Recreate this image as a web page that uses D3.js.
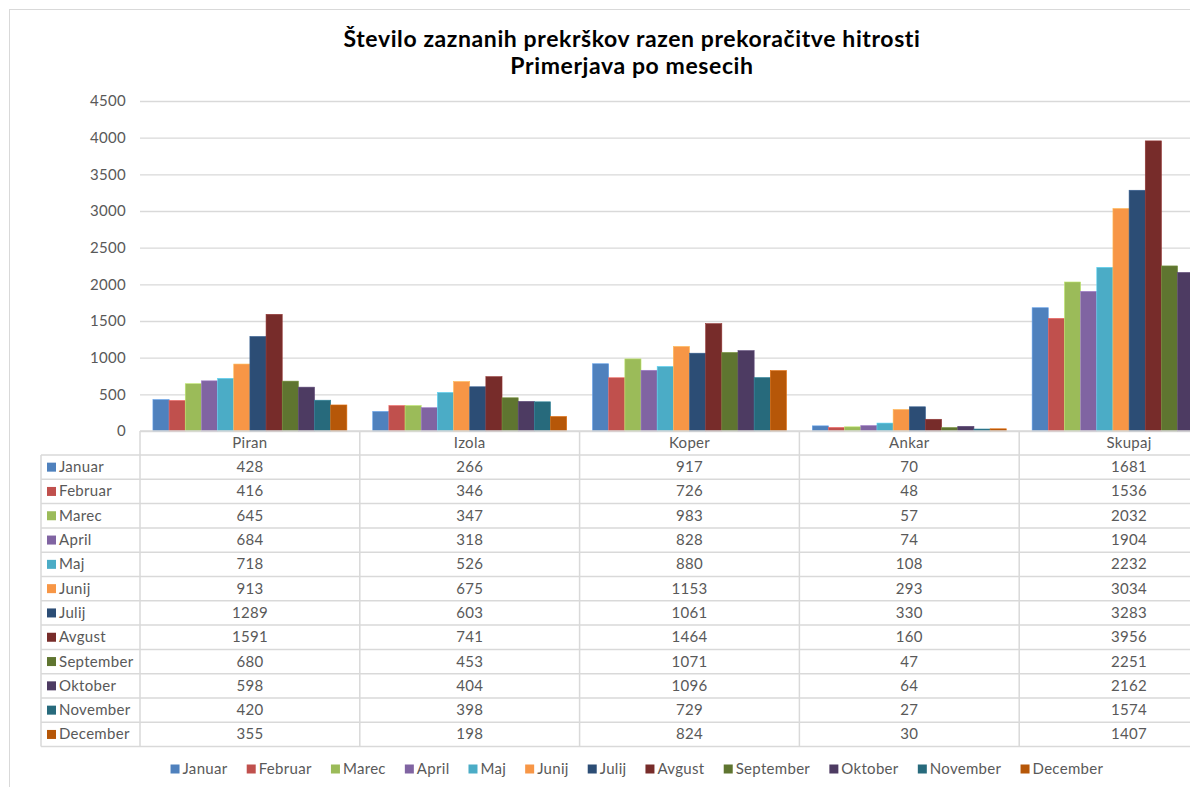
<!DOCTYPE html>
<html><head><meta charset="utf-8">
<script src="https://cdn.jsdelivr.net/npm/d3@7"></script>
<style>
html,body{margin:0;padding:0;background:#fff;overflow:hidden;}
text{font-family:Lato,"Open Sans",sans-serif;}
</style></head>
<body><svg id="c" width="1190" height="787"></svg>
<script>
const titleLines = ["Število zaznanih prekrškov razen prekoračitve hitrosti", "Primerjava po mesecih"];
const categories = ["Piran", "Izola", "Koper", "Ankar", "Skupaj"];
const months = ["Januar","Februar","Marec","April","Maj","Junij","Julij","Avgust","September","Oktober","November","December"];
const colors = ["#4F81BD","#C0504D","#9BBB59","#8064A2","#4BACC6","#F79646","#2C4D75","#772C2A","#5F7530","#4D3B62","#276A7C","#B65708"];
const yTicks = [0,500,1000,1500,2000,2500,3000,3500,4000,4500];
// values per month: [Piran, Izola, Koper, Ankar, Skupaj]
const januar    = [428, 266, 917, 70, 1681];
const februar   = [416, 346, 726, 48, 1536];
const marec     = [645, 347, 983, 57, 2032];
const april     = [684, 318, 828, 74, 1904];
const maj       = [718, 526, 880, 108, 2232];
const junij     = [913, 675, 1153, 293, 3034];
const julij     = [1289, 603, 1061, 330, 3283];
const avgust    = [1591, 741, 1464, 160, 3956];
const september = [680, 453, 1071, 47, 2251];
const oktober   = [598, 404, 1096, 64, 2162];
const november  = [420, 398, 729, 27, 1574];
const december  = [355, 198, 824, 30, 1407];
const series = [januar,februar,marec,april,maj,junij,julij,avgust,september,oktober,november,december];

const svg = d3.select("#c");
const catW = 219.8, x0L = 140;
const x0 = d3.scaleBand().domain(categories).range([x0L, x0L + catW*categories.length]).paddingInner(0).paddingOuter(0);
const x1 = d3.scaleBand().domain(months).range([0, x0.bandwidth()]).paddingInner(0).paddingOuter(0.8);
const y = d3.scaleLinear().domain([0,4500]).range([431,101]);
const color = d3.scaleOrdinal().domain(months).range(colors);
const txt = "#595959", fs = 15, ls = 0.3;

// chart border
svg.append("rect").attr("x",9.5).attr("y",9.5).attr("width",1400).attr("height",1000)
  .attr("fill","#fff").attr("stroke","#d9d9d9").attr("stroke-width",1);

// title
[47,74].forEach((ty,i)=>{
  svg.append("text").attr("x",632).attr("y",ty).attr("text-anchor","middle")
    .attr("font-size",23).attr("font-weight","bold").attr("letter-spacing",0.6).attr("fill","#000").text(titleLines[i]);
});

// y axis with gridlines
const yAxis = d3.axisLeft(y).tickValues(yTicks).tickSize(-1400).tickPadding(14).tickFormat(d3.format("d"));
const gy = svg.append("g").attr("transform",`translate(${x0L},0)`).call(yAxis);
gy.select(".domain").remove();
gy.selectAll(".tick line").attr("stroke","#d9d9d9").attr("stroke-width",1.3);
gy.selectAll(".tick text").attr("fill",txt).attr("font-size",fs).attr("letter-spacing",ls).attr("font-family","Lato,sans-serif");

// bars
const rows = [];
categories.forEach((c,ci)=>months.forEach((m,mi)=>rows.push({c,m,v:series[mi][ci]})));
svg.append("g").selectAll("rect").data(rows).join("rect")
  .attr("x",d=>x0(d.c)+x1(d.m)).attr("width",x1.bandwidth())
  .attr("y",d=>y(d.v)).attr("height",d=>y(0)-y(d.v))
  .attr("fill",d=>color(d.m))
  .attr("stroke",d=>d3.color(color(d.m)).brighter(0.6)).attr("stroke-width",0.6);

// data table
const tTop = 431, hdrH = 24, rowH = 24.3, tLeft = 41;
const tg = svg.append("g");
const lineC = "#d9d9d9";
const right = 1400;
tg.append("line").attr("x1",x0L).attr("x2",right).attr("y1",tTop).attr("y2",tTop).attr("stroke",lineC).attr("stroke-width",1.5);
categories.forEach(c=>{
  tg.append("text").attr("x",x0(c)+x0.bandwidth()/2).attr("y",tTop+hdrH/2+5).attr("text-anchor","middle")
    .attr("font-size",fs).attr("letter-spacing",ls).attr("fill",txt).text(c);
});
d3.range(categories.length+1).forEach(i=>{
  const xx = x0L + i*catW;
  tg.append("line").attr("x1",xx).attr("x2",xx).attr("y1",tTop).attr("y2",tTop+hdrH+rowH*months.length)
    .attr("stroke",lineC).attr("stroke-width",1.5);
});
tg.append("line").attr("x1",tLeft).attr("x2",tLeft).attr("y1",tTop+hdrH).attr("y2",tTop+hdrH+rowH*months.length)
  .attr("stroke",lineC).attr("stroke-width",1.5);
months.forEach((m,mi)=>{
  const ry = tTop+hdrH+mi*rowH;
  tg.append("line").attr("x1",tLeft).attr("x2",right).attr("y1",ry).attr("y2",ry).attr("stroke",lineC).attr("stroke-width",1.5);
  tg.append("rect").attr("x",47).attr("y",ry+rowH/2-4.5).attr("width",9).attr("height",9).attr("fill",color(m));
  tg.append("text").attr("x",59).attr("y",ry+rowH/2+5).attr("font-size",fs).attr("letter-spacing",ls).attr("fill",txt).text(m);
  categories.forEach((c,ci)=>{
    tg.append("text").attr("x",x0(c)+x0.bandwidth()/2).attr("y",ry+rowH/2+5).attr("text-anchor","middle")
      .attr("font-size",fs).attr("letter-spacing",ls).attr("fill",txt).text(series[mi][ci]);
  });
});
const tb = tTop+hdrH+rowH*months.length;
tg.append("line").attr("x1",tLeft).attr("x2",right).attr("y1",tb).attr("y2",tb).attr("stroke",lineC).attr("stroke-width",1.5);

// legend
const lg = svg.append("g");
const items = lg.selectAll("g").data(months).join("g");
items.append("rect").attr("width",9).attr("height",9).attr("y",-9.5).attr("fill",d=>color(d));
items.append("text").attr("x",12).attr("y",0).attr("font-size",fs).attr("letter-spacing",ls).attr("fill",txt).text(d=>d);
const widths = [];
items.each(function(){ widths.push(this.getBBox().width); });
const gap = 19;
const total = d3.sum(widths) + gap*(months.length-1);
let cx = 637 - total/2;
items.each(function(d,i){ d3.select(this).attr("transform",`translate(${cx},774)`); cx += widths[i]+gap; });
</script></body></html>
